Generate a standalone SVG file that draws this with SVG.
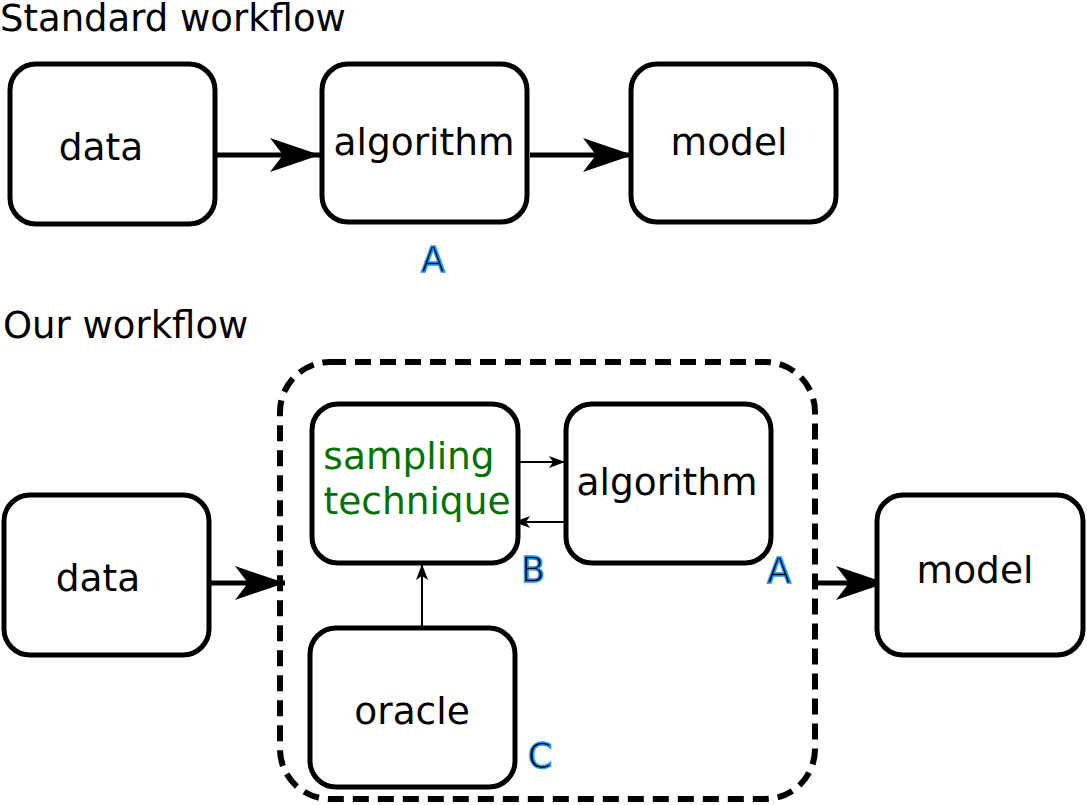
<svg xmlns="http://www.w3.org/2000/svg" width="1087" height="805" viewBox="0 0 1087 805">
<style>
.box{fill:#fff;stroke:#000;stroke-width:5}
.t{font-family:"DejaVu Sans",sans-serif;font-size:37.5px;fill:#000;text-anchor:middle}
.h{font-family:"DejaVu Sans",sans-serif;font-size:37px;fill:#000}
.g{fill:#007000}
.lab{font-family:"DejaVu Sans",sans-serif;font-size:35px;fill:#000;stroke:#1e9bff;stroke-width:1.5;text-anchor:middle}
.big{stroke:#000;stroke-width:5;fill:none;marker-end:url(#ab)}
.thin{stroke:#000;stroke-width:2;fill:none;marker-end:url(#as)}
</style>
<defs>
<marker id="ab" markerUnits="userSpaceOnUse" markerWidth="60" markerHeight="40" viewBox="-50 -20 60 40" refX="0" refY="0" orient="auto" overflow="visible">
<path d="M0,0 L-50,-17 L-37,0 L-50,17 Z" fill="#000"/>
</marker>
<marker id="as" markerUnits="userSpaceOnUse" markerWidth="20" markerHeight="14" viewBox="-18 -7 20 14" refX="0" refY="0" orient="auto" overflow="visible">
<path d="M0,0 L-16,-6 L-12,0 L-16,6 Z" fill="#000"/>
</marker>
</defs>
<text class="h" x="0" y="31">Standard workflow</text>
<text class="h" x="3" y="338">Our workflow</text>
<g id="connectors">
<line class="big" x1="217" y1="155" x2="320" y2="155"/>
<line class="big" x1="530" y1="155" x2="633" y2="155"/>
<line class="big" x1="210" y1="583" x2="285" y2="583"/>
<line class="big" x1="813" y1="583" x2="886" y2="583"/>
<line class="thin" x1="518" y1="462" x2="565" y2="462"/>
<line class="thin" x1="566" y1="522" x2="514" y2="522"/>
<line class="thin" x1="422" y1="628" x2="422" y2="564"/>
</g>
<g id="container"><rect x="280" y="362" width="535" height="437" rx="50" fill="none" stroke="#000" stroke-width="6" stroke-dasharray="16,9"/></g>
<g id="data1"><rect class="box" x="10" y="64" width="205" height="160" rx="26"/><text class="t" x="101" y="160">data</text></g>
<g id="algorithm1"><rect class="box" x="322" y="64" width="205" height="158" rx="26"/><text class="t" x="424" y="155">algorithm</text></g>
<g id="model1"><rect class="box" x="631" y="64" width="205" height="158" rx="26"/><text class="t" x="729" y="155">model</text></g>
<text class="lab" x="433" y="272">A</text>
<g id="sampling"><rect class="box" x="312" y="404" width="206" height="159" rx="26"/><text class="t g" x="409" y="469">sampling</text><text class="t g" x="417" y="514">technique</text></g>
<g id="algorithm2"><rect class="box" x="566" y="404" width="205" height="159" rx="26"/><text class="t" x="667" y="495">algorithm</text></g>
<g id="data2"><rect class="box" x="4" y="495" width="205" height="160" rx="26"/><text class="t" x="98" y="591">data</text></g>
<g id="model2"><rect class="box" x="877" y="495" width="206" height="160" rx="26"/><text class="t" x="975" y="583">model</text></g>
<g id="oracle"><rect class="box" x="310" y="628" width="205" height="159" rx="26"/><text class="t" x="412" y="724">oracle</text></g>
<text class="lab" x="533" y="582">B</text>
<text class="lab" x="779" y="583">A</text>
<text class="lab" x="540" y="768">C</text>
</svg>
